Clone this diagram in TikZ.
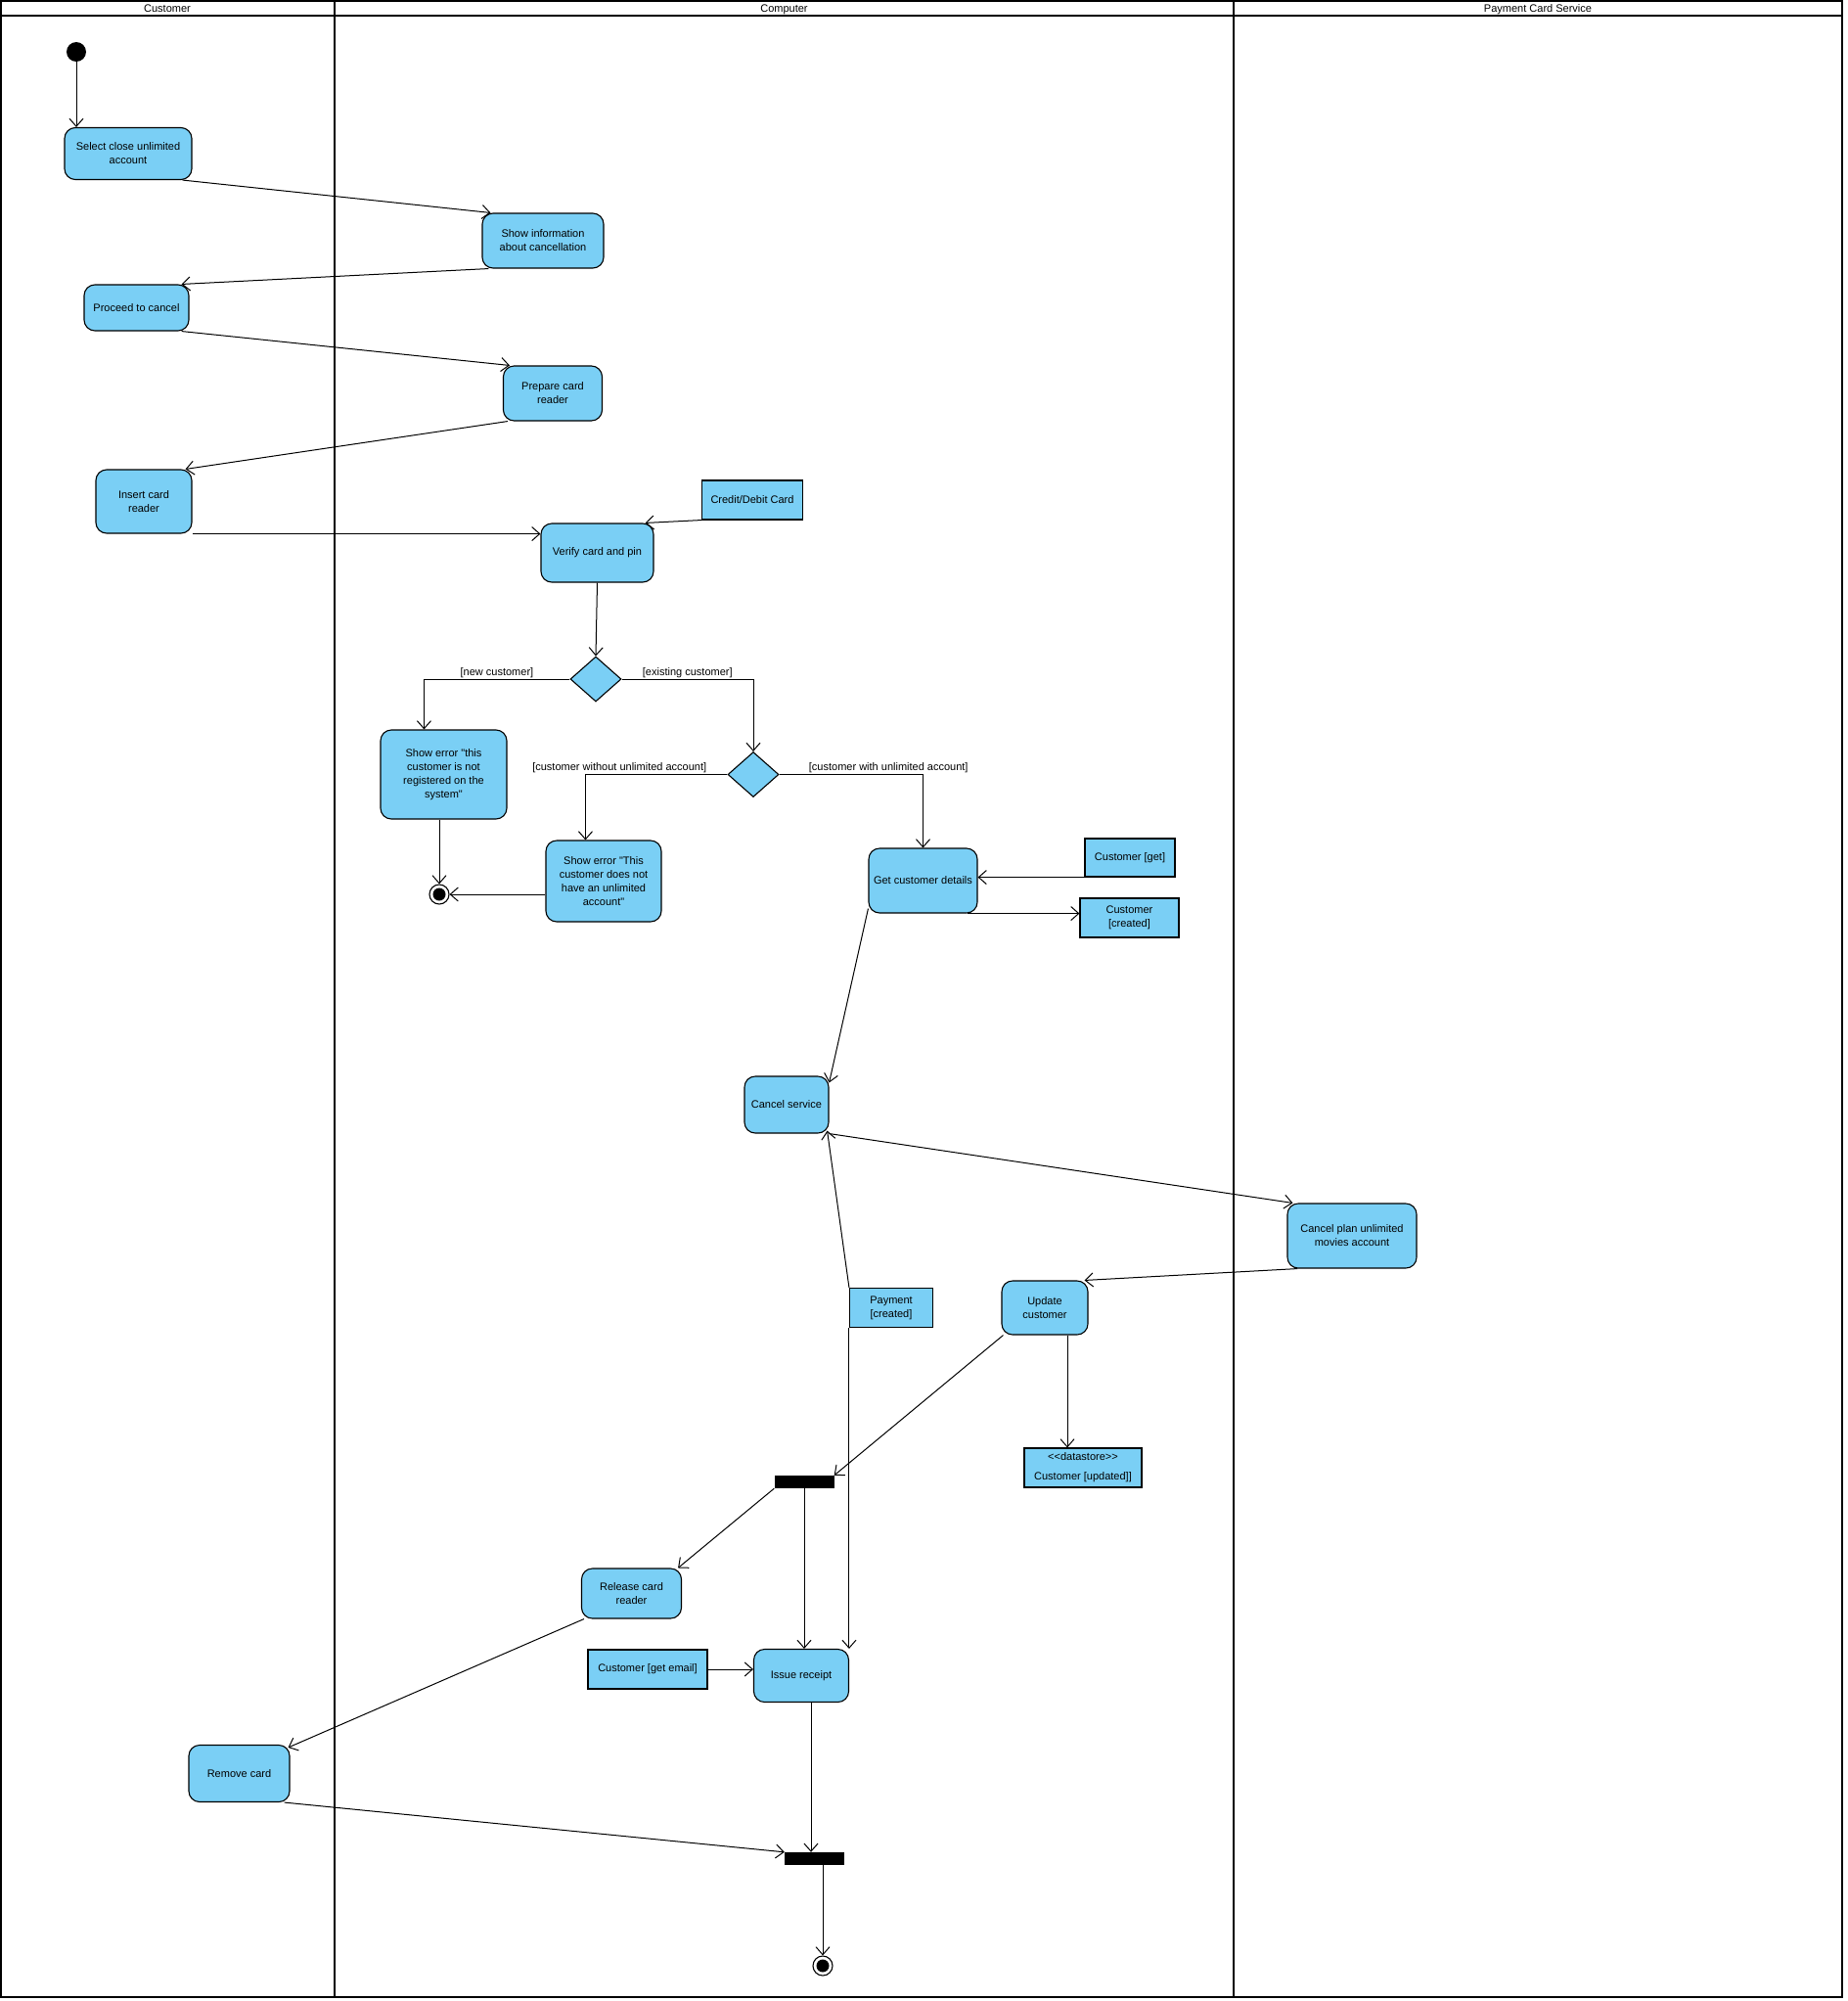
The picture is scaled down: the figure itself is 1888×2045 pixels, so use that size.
\documentclass[tikz,border=0pt]{standalone}
\usepackage{fontspec}
\setmainfont{Liberation Sans}[Ligatures=TeXOff]
\usepackage{xcolor}
\usetikzlibrary{arrows.meta,shapes.geometric}
\definecolor{vpblue}{RGB}{122,207,245}
\tikzset{
  vpnode/.style = {align=center, inner sep=0pt, text centered,
    font=\fontsize{11}{14}\selectfont},
  nd_act/.style = {vpnode, rectangle, rounded corners=11pt, draw=black, fill=vpblue, line width=1.1pt},% action
  nd_obj/.style = {vpnode, rectangle, draw=black, fill=vpblue, line width=1.1pt},% object node
  nd_dec/.style = {vpnode, diamond, draw=black, fill=vpblue, line width=1.1pt, minimum width=52pt, minimum height=46pt},% decision
  nd_bar/.style = {rectangle, fill=black, minimum width=61pt, minimum height=13pt, inner sep=0pt},% fork / join
  nd_start/.style = {circle, fill=black, minimum size=20pt, inner sep=0pt},% initial
  nd_end/.style = {circle, draw=black, fill=white, line width=1.1pt, minimum size=20pt, inner sep=0pt,
    path picture={\fill[black] (path picture bounding box.center) circle (6.5pt);}},% final
  lane/.style = {line width=2pt},% swimlane
  guard/.style = {vpnode, inner sep=1pt},% guard
  flow/.style = {->, line width=1pt}% control / object flow
}

\begin{document}
\begin{tikzpicture}[x=1pt, y=-1pt, >={Straight Barb[length=8pt,width=14pt]}]
\useasboundingbox (0,0) rectangle (1888,2045);
% swimlanes
\draw[lane] (1,1) rectangle (1883,2041);
\draw[lane] (1,16) -- (1883,16);
\draw[lane] (342,1) -- (342,2041);
\draw[lane] (1261,1) -- (1261,2041);
\node[vpnode, anchor=base] (h_cust) at (171,12.5) {Customer};
\node[vpnode, anchor=base] (h_comp) at (801.5,12.5) {Computer};
\node[vpnode, anchor=base] (h_pay) at (1572,12.5) {Payment Card Service};

% nodes
\node[nd_start] (start) at (78,53) {};
\node[nd_act, minimum width=130pt, minimum height=53pt] (sel) at (131,157) {Select close unlimited\\account};
\node[nd_act, minimum width=124pt, minimum height=56pt] (info) at (555,246) {Show information\\about cancellation};
\node[nd_act, minimum width=107pt, minimum height=47pt] (proc) at (139.5,314.5) {Proceed to cancel};
\node[nd_act, minimum width=101pt, minimum height=56pt] (prep) at (565,402) {Prepare card\\reader};
\node[nd_act, minimum width=98pt, minimum height=65pt] (ins) at (147,512.5) {Insert card\\reader};
\node[nd_obj, minimum width=103pt, minimum height=40pt] (card) at (769,511) {Credit/Debit Card};
\node[nd_act, minimum width=115pt, minimum height=60pt] (ver) at (610.5,565) {Verify card and pin};
\node[nd_dec] (dec1) at (609,694) {};
\node[nd_act, minimum width=129pt, minimum height=91pt] (err1) at (453.5,791.5) {Show error "this\\customer is not\\registered on the\\system"};
\node[nd_dec] (dec2) at (770,791.5) {};
\node[nd_act, minimum width=118pt, minimum height=83pt] (err2) at (617,900.5) {Show error "This\\customer does not\\have an unlimited\\account"};
\node[nd_end] (end1) at (449,914) {};
\node[nd_act, minimum width=111pt, minimum height=66pt] (gcd) at (943.5,900) {Get customer details};
\node[nd_obj, minimum width=92pt, minimum height=39pt] (cget) at (1155,876.5) {Customer [get]};
\node[nd_obj, minimum width=101pt, minimum height=40pt] (ccr) at (1154.5,938) {Customer\\{[created]}};
\node[nd_act, minimum width=86pt, minimum height=58pt] (cs) at (804,1129) {Cancel service};
\node[nd_act, minimum width=132pt, minimum height=66pt] (cp) at (1382,1263) {Cancel plan unlimited\\movies account};
\node[nd_obj, minimum width=85pt, minimum height=40pt] (pay) at (911,1336.5) {Payment\\{[created]}};
\node[nd_act, minimum width=88pt, minimum height=55pt] (uc) at (1068,1336.5) {Update\\customer};
\node[nd_obj, minimum width=120pt, minimum height=40pt] (ds) at (1107,1500) {<<datastore>>\\[6pt]Customer [updated]]};
\node[nd_bar] (fork) at (822,1514.5) {};
\node[nd_act, minimum width=102pt, minimum height=51pt] (rcr) at (645.5,1628.5) {Release card\\reader};
\node[nd_obj, minimum width=122pt, minimum height=40pt] (cge) at (662,1706) {Customer [get email]};
\node[nd_act, minimum width=97pt, minimum height=54pt] (ir) at (819,1712.5) {Issue receipt};
\node[nd_act, minimum width=103pt, minimum height=58pt] (rc) at (244.5,1812.5) {Remove card};
\node[nd_bar] (join) at (832.5,1899.5) {};
\node[nd_end] (end2) at (841,2009) {};

% flows
\draw[flow] (start) -- (start |- sel.north);
\draw[flow] ([xshift=-10pt]sel.south east) -- ([xshift=9pt]info.north west);
\draw[flow] ([xshift=7pt]info.south west) -- ([xshift=-8pt]proc.north east);
\draw[flow] ([xshift=-8pt]proc.south east) -- ([xshift=7pt]prep.north west);
\draw[flow] ([xshift=5pt]prep.south west) -- ([xshift=-7pt]ins.north east);
\draw[flow] (ins.south east) -- (ins.south east -| ver.west);
\draw[flow] (card.south west) -- ([xshift=-9pt]ver.north east);
\draw[flow] (ver.south) -- (dec1.north);
\draw[flow] (dec1.west) -| node[guard, above, pos=0.25] (g_new) {[new customer]} ([xshift=45pt]err1.north west);
\draw[flow] (dec1.east) -| node[guard, above, pos=0.25] (g_old) {[existing customer]} (dec2.north);
\draw[flow] (dec2.west) -| node[guard, above, pos=0.38] (g_nounl) {[customer without unlimited account]} ([xshift=41pt]err2.north west);
\draw[flow] (dec2.east) -| node[guard, above, pos=0.38] (g_unl) {[customer with unlimited account]} (gcd.north);
\draw[flow] (err1.south -| end1) -- (end1);
\draw[flow] (err2.west |- end1) -- (end1);
\draw[flow] (cget.south west) -- (cget.south west -| gcd.east);
\draw[flow] ([xshift=-11pt]gcd.south east) -- (gcd.south east -| ccr.west);
\draw[flow] ([yshift=5pt]gcd.south west) -- ([yshift=-7pt]cs.north east);
\draw[flow] (cs.south east) -- ([xshift=6pt]cp.north west);
\draw[flow] (pay.north west) -- ([xshift=-2pt,yshift=3pt]cs.south east);
\draw[flow] ([xshift=11pt]cp.south west) -- ([xshift=-4pt]uc.north east);
\draw[flow] ([xshift=23pt]uc.south) -- ([xshift=23pt]uc.south |- ds.north);
\draw[flow] ([xshift=2pt]uc.south west) -- (fork.north east);
\draw[flow] (fork.south west) -- ([xshift=-4pt]rcr.north east);
\draw[flow] (fork.south) -- (fork.south |- ir.north);
\draw[flow] (pay.south west) -- (pay.south west |- ir.north);
\draw[flow] (cge.east) -- (cge.east -| ir.west);
\draw[flow] ([xshift=3pt]rcr.south west) -- ([xshift=-2pt,yshift=-3pt]rc.north east);
\draw[flow] ([xshift=-6pt]rc.south east) -- (join.north west);
\draw[flow] ([xshift=10pt]ir.south) -- ([xshift=10pt]ir.south |- join.north);
\draw[flow] (join.south -| end2) -- (end2);
\end{tikzpicture}
\end{document}
